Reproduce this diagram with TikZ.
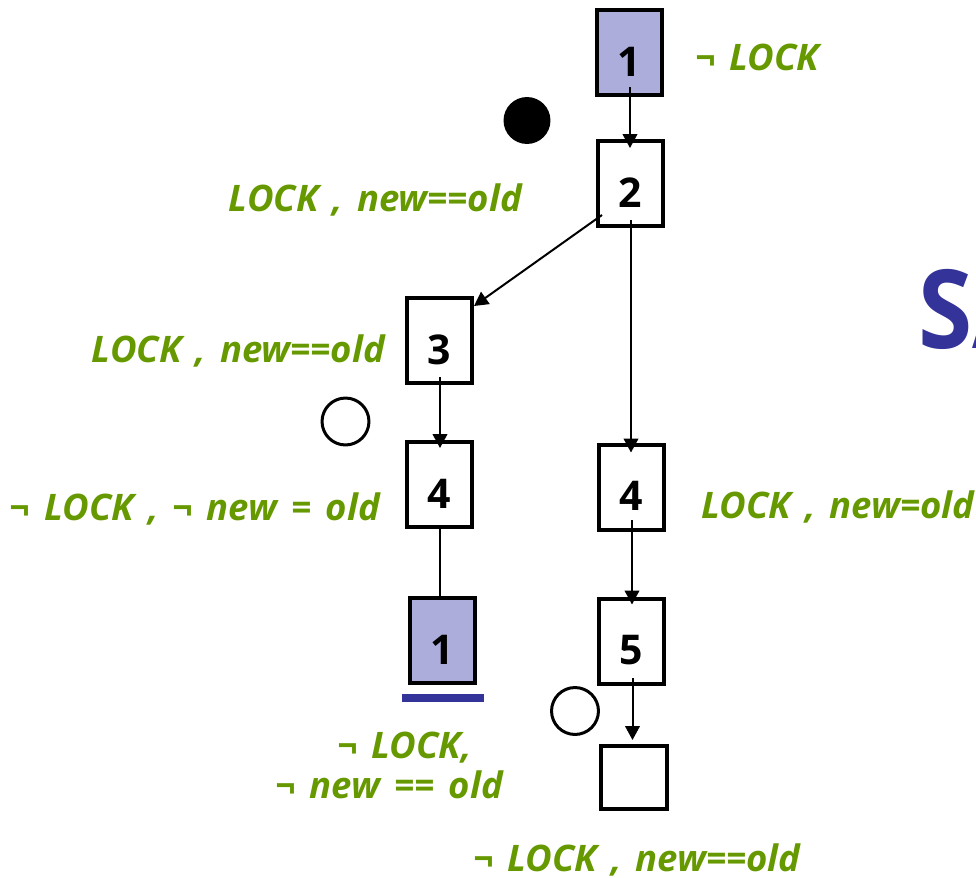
\documentclass[tikz,border=0pt]{standalone}
\usepackage{fontspec}
\setmainfont{Open Sans}[WordSpace=1.5]
\newfontfamily\titlefont{Open Sans}
\usetikzlibrary{arrows.meta,calc}
\definecolor{lgreen}{RGB}{102,153,0}
\definecolor{lav}{RGB}{173,173,220}
\definecolor{dblue}{RGB}{51,51,153}
\begin{document}
\begin{tikzpicture}[x=0.75pt,y=-0.75pt,
  stbox/.style={draw=black,line width=3pt,minimum width=48.75pt,minimum height=63.75pt,inner sep=0pt,text height=35.25pt,text depth=0pt,font=\bfseries\fontsize{30.75}{30.75}\selectfont},
  lbl/.style={text=lgreen,font=\bfseries\itshape\fontsize{27.4}{27.4}\selectfont,inner sep=0pt},
  arr/.style={line width=1.5pt,-{Triangle[length=10.5pt,width=11pt]}},
  con/.style={line width=1.5pt},
  ring/.style={draw=black,line width=2.25pt}]
\useasboundingbox (0,0) rectangle (976,878);
% boxes
\node[stbox,fill=lav] (b1) at (629.5,52.5) {1};
\node[stbox] (b2) at (630.5,183.5) {2};
\node[stbox] (b3) at (439.5,340.5) {3};
\node[stbox] (b4l) at (439.5,484.5) {4};
\node[stbox] (b4r) at (631.5,487) {4};
\node[stbox,fill=lav] (b1b) at (442,640.5) {1};
\node[stbox] (b5) at (631,641) {5};
\node[stbox,minimum width=49.5pt,minimum height=47.25pt] (b6) at (634,777.5) {};
% bar under final step
\fill[dblue] (402,694) rectangle (484,702);
% circles
\fill[black] (527,120.5) circle[radius=17.6pt];
\draw[ring] (345.5,421.5) circle[radius=17.6pt];
\draw[ring] (575,711) circle[radius=17.6pt];
% connectors
\draw[arr] ($(b1.center)+(0.5,34.5)$) -- ($(b2.north)+(-0.5,9)$);
\draw[arr] ($(b2.center)+(-28.5,31.5)$) -- ($(b3.north east)+(0,10)$);
\draw[arr] ($(b2.center)+(0.5,36.5)$) -- ($(b4r.north)+(-0.5,10)$);
\draw[arr] ($(b3.center)+(0.5,36.5)$) -- ($(b4l.north)+(0.5,8)$);
\draw[con] ($(b4l.south)+(0.5,0)$) -- ($(b1b.north)+(-2,0)$);
\draw[arr] ($(b4r.center)+(0.5,33)$) -- ($(b5.north)+(1,8)$);
\draw[arr] ($(b5.center)+(1.5,37)$) -- ($(b6.north)+(-1.5,-4)$);
% labels
\node[lbl,anchor=base west] (t1) at (695,70) {¬ LOCK};
\node[lbl,anchor=base east] (t2) at (522,211.5) {LOCK , new==old};
\node[lbl,anchor=base east] (t3) at (385,362) {LOCK , new==old};
\node[lbl,anchor=base east] (t4) at (380,520) {¬ LOCK , ¬ new = old};
\node[lbl,anchor=base west] (t5) at (701,518) {LOCK , new=old};
\node[lbl,anchor=base west] (t6a) at (337,758) {¬ LOCK,};
\node[lbl,anchor=base west] (t6b) at (275,798) {¬ new == old};
\node[lbl,anchor=base west] (t7) at (473,871) {¬ LOCK , new==old};
% title fragment
\node[anchor=base west,inner sep=0pt,text=dblue,xscale=0.9,font=\titlefont\bfseries\fontsize{82}{82}\selectfont] (sa) at (918,348) {SA};
\end{tikzpicture}
\end{document}
